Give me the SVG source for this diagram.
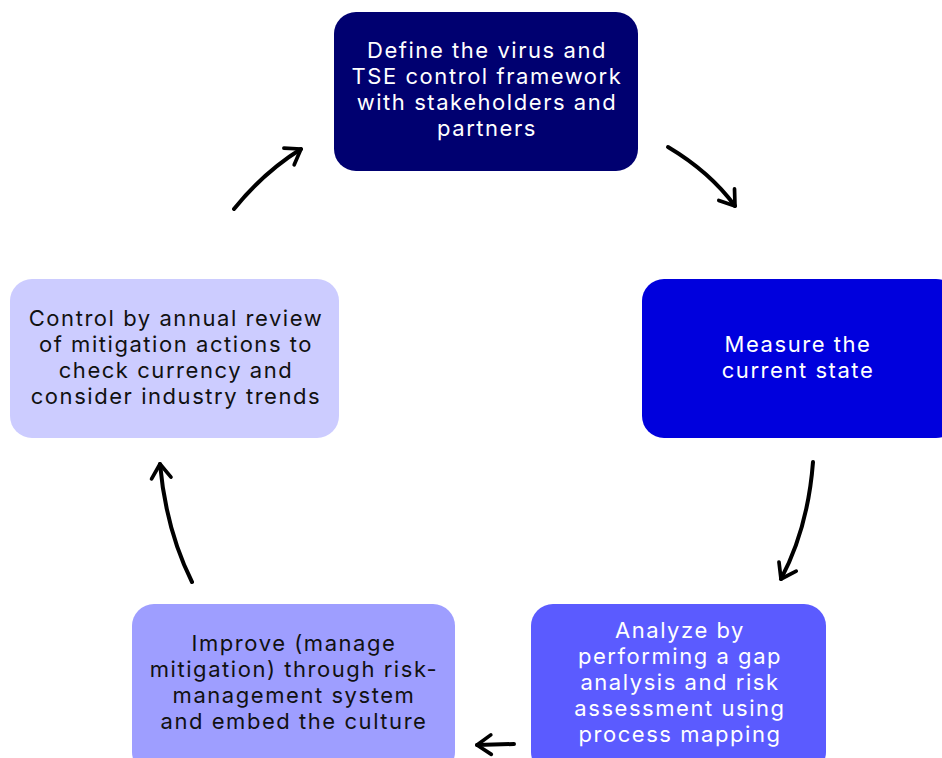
<svg xmlns="http://www.w3.org/2000/svg" width="942" height="758" viewBox="0 0 942 758">
  <style>
    .lbl { font-family: "Inter", "Liberation Sans", sans-serif; font-size: 22px; letter-spacing: 1.55px; text-anchor: middle; }
    .light { fill: #ffffff; }
    .dark { fill: #111111; }
    .conn { fill: none; stroke: #000000; stroke-width: 4; stroke-linecap: round; }
  </style>
  <defs>
    <marker id="head" viewBox="0 0 12 12" refX="9" refY="6" markerWidth="6.5" markerHeight="6.5" orient="auto" markerUnits="strokeWidth">
      <path d="M2.5,1.5 L9,6 L2.5,10.5" fill="none" stroke="#000000" stroke-width="1.7" stroke-linecap="round" stroke-linejoin="round"/>
    </marker>
  </defs>
  <rect width="942" height="758" fill="#ffffff"/>

  <g id="define">
    <rect x="334" y="12" width="304" height="159" rx="22" fill="#000070"/>
    <text class="lbl light" x="487" y="58">Define the virus and</text>
    <text class="lbl light" x="487" y="84">TSE control framework</text>
    <text class="lbl light" x="487" y="110">with stakeholders and</text>
    <text class="lbl light" x="487" y="136">partners</text>
  </g>

  <g id="measure">
    <rect x="642" y="279" width="316" height="159" rx="22" fill="#0000dd"/>
    <text class="lbl light" x="798" y="352">Measure the</text>
    <text class="lbl light" x="798" y="378">current state</text>
  </g>

  <g id="analyze">
    <rect x="531" y="604" width="295" height="170" rx="22" fill="#5b5bff"/>
    <text class="lbl light" x="680" y="638">Analyze by</text>
    <text class="lbl light" x="680" y="664">performing a gap</text>
    <text class="lbl light" x="680" y="690">analysis and risk</text>
    <text class="lbl light" x="680" y="716">assessment using</text>
    <text class="lbl light" x="680" y="742">process mapping</text>
  </g>

  <g id="improve">
    <rect x="132" y="604" width="323" height="170" rx="22" fill="#9e9eff"/>
    <text class="lbl dark" x="294" y="651">Improve (manage</text>
    <text class="lbl dark" x="294" y="677">mitigation) through risk-</text>
    <text class="lbl dark" x="294" y="703">management system</text>
    <text class="lbl dark" x="294" y="729">and embed the culture</text>
  </g>

  <g id="control">
    <rect x="10" y="279" width="329" height="159" rx="22" fill="#ccccff"/>
    <text class="lbl dark" x="176" y="326">Control by annual review</text>
    <text class="lbl dark" x="176" y="352">of mitigation actions to</text>
    <text class="lbl dark" x="176" y="378">check currency and</text>
    <text class="lbl dark" x="176" y="404">consider industry trends</text>
  </g>

  <g id="connectors">
    <path class="conn" d="M668,147 Q710,172 735,206" marker-end="url(#head)"/>
    <path class="conn" d="M813,462 Q808,528 781,579" marker-end="url(#head)"/>
    <path class="conn" d="M514,744 L477,745" marker-end="url(#head)"/>
    <path class="conn" d="M192,582 Q166,530 160,464" marker-end="url(#head)"/>
    <path class="conn" d="M234,209 Q264,172 301,149" marker-end="url(#head)"/>
  </g>
</svg>
